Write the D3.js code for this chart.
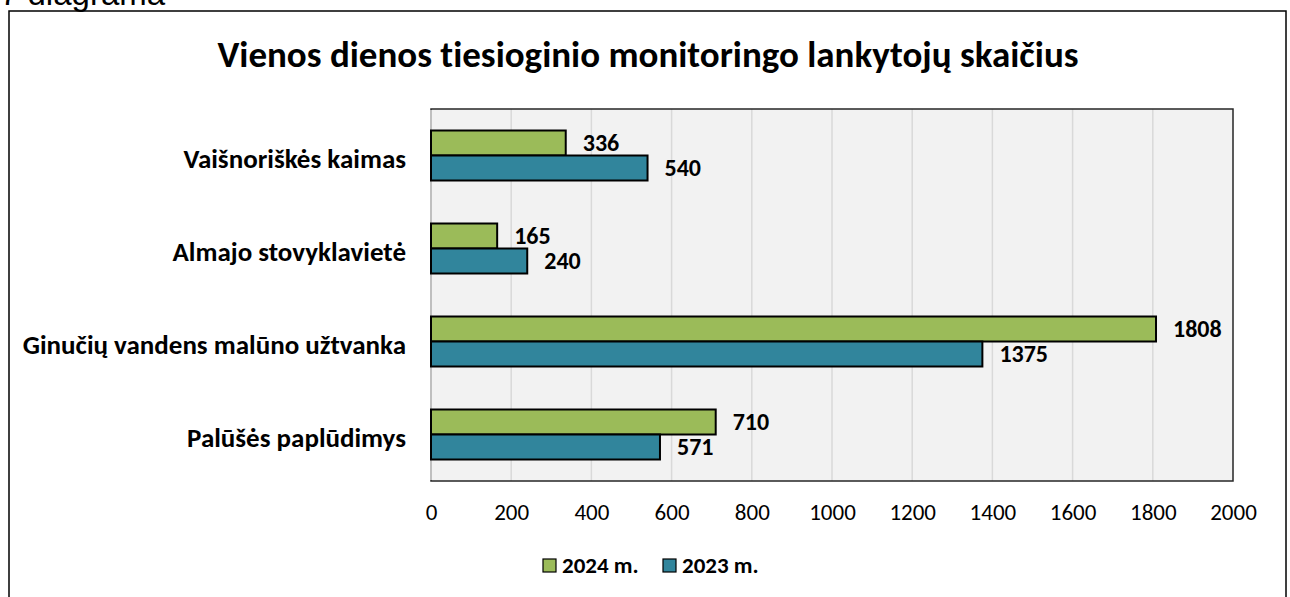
<!DOCTYPE html>
<html>
<head>
<meta charset="utf-8">
<script src="https://cdn.jsdelivr.net/npm/d3@7"></script>
<style>
  body { margin: 0; background: #fff; }
  svg text { font-variant-ligatures: none; }
</style>
</head>
<body>
<div id="chart"></div>
<script>
// data
const categories = ["Vaišnoriškės kaimas", "Almajo stovyklavietė", "Ginučių vandens malūno užtvanka", "Palūšės paplūdimys"];
const series = ["2024 m.", "2023 m."];
const values2024 = [336, 165, 1808, 710];
const values2023 = [540, 240, 1375, 571];
const xTicks = [0, 200, 400, 600, 800, 1000, 1200, 1400, 1600, 1800, 2000];
const colors = ["#9bbb59", "#31859c"];

const width = 1290, height = 597;
const plot = { left: 431, top: 109, right: 1233, bottom: 481 };
const font = "Carlito, Calibri, Lato, sans-serif";

const svg = d3.select("#chart").append("svg")
  .attr("width", width)
  .attr("height", height);

// caption above frame
svg.append("text")
  .attr("x", 0).attr("y", 5)
  .style("font-family", "'Liberation Sans', Arial, sans-serif")
  .style("font-size", "33px")
  .text("7 diagrama");

// outer frame
svg.append("rect")
  .attr("x", 9).attr("y", 11)
  .attr("width", 1277).attr("height", 600)
  .attr("fill", "none").attr("stroke", "#000").attr("stroke-width", 1.5);

// title
svg.append("text")
  .attr("x", 648).attr("y", 67)
  .attr("text-anchor", "middle")
  .style("font-family", font)
  .style("font-weight", "bold")
  .style("font-size", "37px")
  .text("Vienos dienos tiesioginio monitoringo lankytojų skaičius");

const x = d3.scaleLinear().domain([0, 2000]).range([plot.left, plot.right]);
const y = d3.scaleBand().domain(categories).range([plot.top, plot.bottom]);
const inner = d3.scaleBand().domain(series).range([0, y.bandwidth()]).paddingInner(0).paddingOuter(0.86);

// plot background
svg.append("rect")
  .attr("x", plot.left).attr("y", plot.top)
  .attr("width", plot.right - plot.left).attr("height", plot.bottom - plot.top)
  .attr("fill", "#f2f2f2");

// gridlines
svg.append("g")
  .selectAll("line")
  .data(xTicks.slice(1, -1))
  .join("line")
  .attr("x1", d => x(d)).attr("x2", d => x(d))
  .attr("y1", plot.top).attr("y2", plot.bottom)
  .attr("stroke", "#d9d9d9").attr("stroke-width", 1.5);

// plot border
svg.append("rect")
  .attr("x", plot.left).attr("y", plot.top)
  .attr("width", plot.right - plot.left).attr("height", plot.bottom - plot.top)
  .attr("fill", "none").attr("stroke", "#262626").attr("stroke-width", 1.5);
svg.append("line")
  .attr("x1", plot.left).attr("x2", plot.left)
  .attr("y1", plot.top + 1).attr("y2", plot.bottom - 1)
  .attr("stroke", "#bfbfbf").attr("stroke-width", 2);

// bars
const rows = categories.map((c, i) => ({ cat: c, vals: [values2024[i], values2023[i]] }));
const group = svg.append("g").selectAll("g")
  .data(rows)
  .join("g")
  .attr("transform", d => `translate(0,${y(d.cat)})`);

group.selectAll("rect")
  .data(d => d.vals.map((v, j) => ({ v, s: series[j], j })))
  .join("rect")
  .attr("x", x(0))
  .attr("y", d => inner(d.s))
  .attr("width", d => x(d.v) - x(0))
  .attr("height", inner.bandwidth())
  .attr("fill", d => colors[d.j])
  .attr("stroke", "#000").attr("stroke-width", 2);

group.selectAll("text")
  .data(d => d.vals.map((v, j) => ({ v, s: series[j], j })))
  .join("text")
  .attr("x", d => x(d.v) + 17)
  .attr("y", d => inner(d.s) + inner.bandwidth() / 2)
  .attr("dy", "0.35em")
  .style("font-family", font)
  .style("font-weight", "bold")
  .style("font-size", "24px")
  .text(d => d.v);

// category axis labels
svg.append("g")
  .selectAll("text")
  .data(categories)
  .join("text")
  .attr("x", 406)
  .attr("y", d => y(d) + y.bandwidth() / 2 + 12)
  .attr("text-anchor", "end")
  .style("font-family", font)
  .style("font-weight", "bold")
  .style("font-size", "27px")
  .text(d => d);

// x axis
const xAxis = svg.append("g")
  .attr("transform", `translate(0,${plot.bottom})`)
  .call(d3.axisBottom(x).tickValues(xTicks).tickFormat(d3.format("d")).tickSize(0).tickPadding(23));
xAxis.select(".domain").remove();
xAxis.selectAll("text")
  .style("font-family", font)
  .style("font-size", "23px")
  .attr("fill", "#000");

// legend
const legend = svg.append("g");
const legendX = [543, 663];
series.forEach((s, i) => {
  legend.append("rect")
    .attr("x", legendX[i]).attr("y", 559)
    .attr("width", 13).attr("height", 13)
    .attr("fill", colors[i]).attr("stroke", "#000").attr("stroke-width", 1.2);
  legend.append("text")
    .attr("x", legendX[i] + 19).attr("y", 573)
    .style("font-family", font)
    .style("font-weight", "bold")
    .style("font-size", "23px")
    .text(s);
});
</script>
</body>
</html>
